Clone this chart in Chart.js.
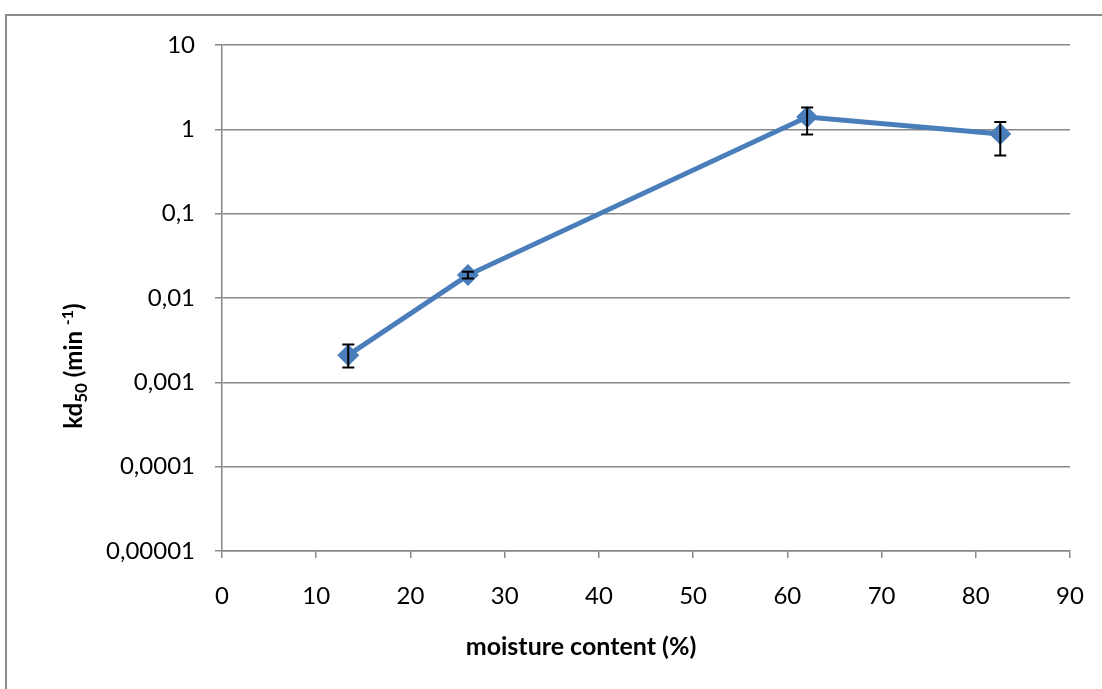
<!DOCTYPE html>
<html>
<head>
<meta charset="utf-8">
<script src="https://cdn.jsdelivr.net/npm/chart.js@4/dist/chart.umd.min.js"></script>
<style>
  html, body { margin: 0; padding: 0; background: #fff; overflow: hidden; }
  #frame { position: absolute; left: 5px; top: 14px; width: 1200px; height: 800px; border: 2px solid #8a8a8a; box-sizing: border-box; }
  #wrap { position: absolute; left: 0; top: 0; width: 1102px; height: 689px; }
</style>
</head>
<body>
<div id="frame"></div>
<div id="wrap"><canvas id="kdChart" width="1102" height="689"></canvas></div>
<script>
'use strict';

// moisture content (%) and kd50 (min -1) with error bar limits
const moisture = [13.4, 26.1, 62.1, 82.6];
const kd50 = [0.0021, 0.0187, 1.40, 0.88];
const kdUpper = [0.0028, 0.0205, 1.82, 1.22];
const kdLower = [0.0015, 0.0170, 0.87, 0.49];

const yTickValues = [0.00001, 0.0001, 0.001, 0.01, 0.1, 1, 10];
const yTickLabels = ['0,00001', '0,0001', '0,001', '0,01', '0,1', '1', '10'];

const fontFamily = 'Lato, "Open Sans", sans-serif';
const gridColor = '#888888';

// vertical error bars with small caps
const errorBars = {
    id: 'errorBars',
    afterDatasetsDraw(chart) {
        const ctx = chart.ctx;
        const x = chart.scales.x, y = chart.scales.y;
        ctx.save();
        ctx.strokeStyle = '#000';
        ctx.lineWidth = 2;
        for (let i = 0; i < moisture.length; i++) {
            const px = x.getPixelForValue(moisture[i]);
            const top = y.getPixelForValue(kdUpper[i]);
            const bot = y.getPixelForValue(kdLower[i]);
            ctx.beginPath();
            ctx.moveTo(px, top); ctx.lineTo(px, bot);
            ctx.moveTo(px - 6, top); ctx.lineTo(px + 6, top);
            ctx.moveTo(px - 6, bot); ctx.lineTo(px + 6, bot);
            ctx.stroke();
        }
        ctx.restore();
    }
};

// axis titles; the y one carries a subscript and a superscript
const axisTitles = {
    id: 'axisTitles',
    afterDraw(chart) {
        const ctx = chart.ctx;
        ctx.save();
        ctx.fillStyle = '#000';

        ctx.font = 'bold 25px ' + fontFamily;
        ctx.textAlign = 'center';
        ctx.textBaseline = 'middle';
        ctx.fillText('moisture content (%)', 581, 647);

        const parts = [
            { t: 'kd', size: 24, dy: 0 },
            { t: '50', size: 17, dy: 5 },
            { t: ' (min ', size: 24, dy: 0 },
            { t: '-1', size: 16, dy: -9 },
            { t: ')', size: 24, dy: 0 }
        ];
        let total = 0;
        parts.forEach(p => {
            ctx.font = 'bold ' + p.size + 'px ' + fontFamily;
            p.w = ctx.measureText(p.t).width;
            total += p.w;
        });
        ctx.translate(82, 366);
        ctx.rotate(-Math.PI / 2);
        ctx.textAlign = 'left';
        ctx.textBaseline = 'alphabetic';
        let cx = -total / 2;
        parts.forEach(p => {
            ctx.font = 'bold ' + p.size + 'px ' + fontFamily;
            ctx.fillText(p.t, cx, p.dy);
            cx += p.w;
        });
        ctx.restore();
    }
};

new Chart('kdChart', {
    type: 'line',
    data: {
        datasets: [{
            data: moisture.map((m, i) => ({ x: m, y: kd50[i] })),
            borderColor: '#4a7ebb',
            backgroundColor: '#4a7ebb',
            borderWidth: 5,
            pointStyle: 'rectRot',
            pointRadius: 11,
            pointBorderWidth: 0,
            tension: 0
        }]
    },
    options: {
        responsive: false,
        animation: false,
        layout: { padding: { left: 0, right: 32, top: 45, bottom: 0 } },
        plugins: { legend: { display: false }, tooltip: { enabled: false } },
        scales: {
            x: {
                type: 'linear',
                min: 0,
                max: 90,
                ticks: { stepSize: 10, padding: 24, color: '#000', font: { family: fontFamily, size: 24 } },
                grid: { drawOnChartArea: false, drawTicks: true, tickLength: 7, color: gridColor, lineWidth: 1.5 },
                border: { color: gridColor, width: 1.5 },
                afterFit(scale) {
                    scale.height = 689 - 551;
                    scale.paddingLeft = 0;
                    scale.paddingRight = 0;
                }
            },
            y: {
                type: 'logarithmic',
                min: 0.00001,
                max: 10,
                afterBuildTicks(scale) { scale.ticks = yTickValues.map(v => ({ value: v })); },
                ticks: {
                    padding: 20,
                    color: '#000',
                    font: { family: fontFamily, size: 24 },
                    callback: (v) => yTickLabels[yTickValues.indexOf(v)]
                },
                grid: { drawTicks: true, tickLength: 7, color: gridColor, lineWidth: 1.5 },
                border: { color: gridColor, width: 1.5 },
                afterFit(scale) {
                    scale.width = 222;
                    scale.paddingTop = 0;
                    scale.paddingBottom = 0;
                }
            }
        }
    },
    plugins: [errorBars, axisTitles]
});
</script>
</body>
</html>
